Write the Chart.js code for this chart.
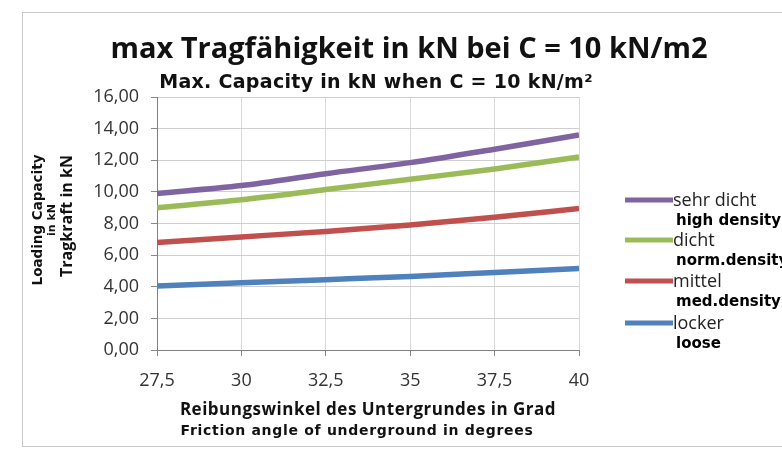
<!DOCTYPE html>
<html>
<head>
<meta charset="utf-8">
<script src="https://cdn.jsdelivr.net/npm/chart.js@4/dist/chart.umd.min.js"></script>
<style>
  html, body { margin: 0; padding: 0; background: #fff; }
  #wrap { width: 782px; height: 450px; position: relative; }
</style>
</head>
<body>
<div id="wrap"><canvas id="myChart" width="782" height="450"></canvas></div>
<script>
// Reibungswinkel (x) und Tragkraft je Dichte (y)
const angles = [27.5, 30, 32.5, 35, 37.5, 40];
const sehrDicht = [9.9, 10.4, 11.15, 11.85, 12.7, 13.6];
const dicht = [9.0, 9.5, 10.15, 10.8, 11.45, 12.2];
const mittel = [6.8, 7.15, 7.5, 7.9, 8.4, 8.95];
const locker = [4.05, 4.25, 4.45, 4.65, 4.9, 5.15];
const seriesNames = ['sehr dicht', 'dicht', 'mittel', 'locker'];
const seriesNamesEn = ['high density', 'norm.density', 'med.density', 'loose'];
const colors = ['#8064A2', '#9BBB59', '#C0504D', '#4F81BD'];

const tickFont = { family: 'Open Sans', size: 18 };

function points(values) {
    return angles.map((a, i) => ({ x: a, y: values[i] }));
}

function text(ctx, str, x, y, font, spacing) {
    ctx.font = font;
    ctx.letterSpacing = (spacing || 0) + 'px';
    ctx.fillText(str, x, y);
    ctx.letterSpacing = '0px';
}

// Texte, Rahmen und Legende selbst zeichnen
const decoPlugin = {
    id: 'deco',
    beforeDraw(chart) {
        const ctx = chart.ctx;
        ctx.save();
        ctx.strokeStyle = '#c8c8c8';
        ctx.lineWidth = 1;
        ctx.strokeRect(22.5, 12.5, 770, 434);
        ctx.restore();
    },
    afterDraw(chart) {
        const ctx = chart.ctx;
        ctx.save();
        ctx.fillStyle = '#111';
        ctx.textBaseline = 'middle';
        ctx.textAlign = 'center';
        text(ctx, 'max Tragfähigkeit in kN bei C = 10 kN/m2', 409, 50, 'bold 29px "Open Sans"');
        text(ctx, 'Max. Capacity in kN when C = 10 kN/m²', 376, 83, 'bold 19px "DejaVu Sans"', 0.3);

        // x-Achsentitel
        text(ctx, 'Reibungswinkel des Untergrundes in Grad', 368, 410, 'bold 17px "Open Sans"', 0.5);
        text(ctx, 'Friction angle of underground in degrees', 357, 431, 'bold 14px "DejaVu Sans"', 0.7);

        // y-Achsentitel
        ctx.save();
        ctx.translate(0, 220);
        ctx.rotate(-Math.PI / 2);
        text(ctx, 'Loading Capacity', 0, 38, 'bold 13.5px "DejaVu Sans"');
        text(ctx, 'in kN', 0, 52, 'bold 11px "DejaVu Sans"');
        text(ctx, 'Tragkraft in kN', 4, 67, 'bold 16px "Open Sans"');
        ctx.restore();

        // Legende
        const rows = [200, 240, 281, 323];
        ctx.textAlign = 'left';
        rows.forEach((y, i) => {
            ctx.strokeStyle = colors[i];
            ctx.lineWidth = 5;
            ctx.beginPath();
            ctx.moveTo(625, y);
            ctx.lineTo(673, y);
            ctx.stroke();
            ctx.fillStyle = '#222';
            text(ctx, seriesNames[i], 673, y + 1, '18px "Open Sans"');
            ctx.fillStyle = '#000';
            text(ctx, seriesNamesEn[i], 676, y + 21, 'bold 15px "DejaVu Sans"');
        });
        ctx.restore();
    }
};

const ctx = document.getElementById('myChart').getContext('2d');
const myChart = new Chart(ctx, {
    type: 'line',
    data: {
        datasets: [
            { label: seriesNames[0], data: points(sehrDicht), borderColor: colors[0] },
            { label: seriesNames[1], data: points(dicht), borderColor: colors[1] },
            { label: seriesNames[2], data: points(mittel), borderColor: colors[2] },
            { label: seriesNames[3], data: points(locker), borderColor: colors[3] }
        ]
    },
    options: {
        responsive: false,
        animation: false,
        layout: { padding: { top: 97, right: 203, left: 0, bottom: 0 } },
        elements: {
            line: { borderWidth: 5.5, tension: 0.4, cubicInterpolationMode: 'monotone' },
            point: { radius: 0 }
        },
        plugins: {
            legend: { display: false },
            title: { display: false },
            tooltip: { enabled: false }
        },
        scales: {
            x: {
                type: 'linear',
                min: 27.5,
                max: 40,
                afterFit: (scale) => { scale.height = 100; },
                ticks: {
                    stepSize: 2.5,
                    color: '#333',
                    font: tickFont,
                    padding: 14,
                    callback: (v) => String(v).replace('.', ',')
                },
                grid: { color: '#d9d9d9', tickLength: 6, tickColor: '#888' },
                border: { color: '#808080' }
            },
            y: {
                min: 0,
                max: 16,
                afterFit: (scale) => { scale.width = 157; },
                ticks: {
                    stepSize: 2,
                    color: '#333',
                    font: tickFont,
                    padding: 12,
                    callback: (v) => v.toFixed(2).replace('.', ',')
                },
                grid: { color: '#cfcfcf', tickLength: 6, tickColor: '#888' },
                border: { color: '#808080' }
            }
        }
    },
    plugins: [decoPlugin]
});
</script>
</body>
</html>
